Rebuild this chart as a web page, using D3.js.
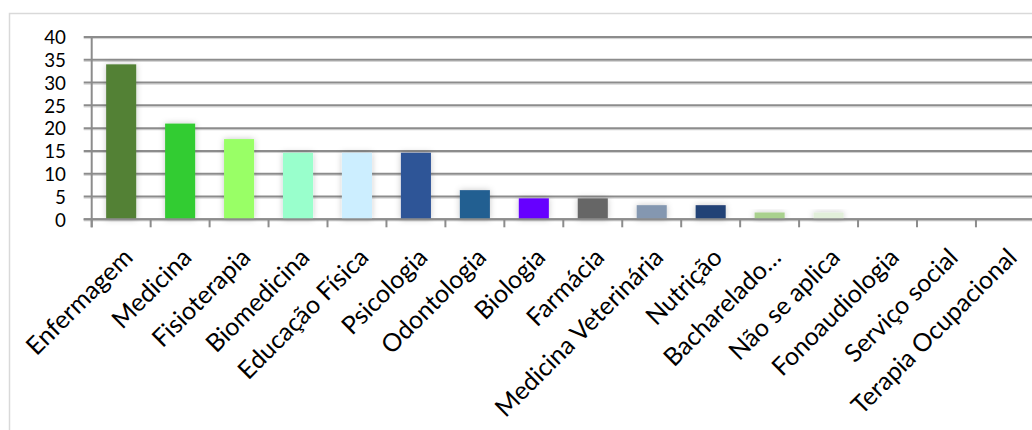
<!DOCTYPE html>
<html>
<head>
<meta charset="utf-8">
<script src="https://cdn.jsdelivr.net/npm/d3@7"></script>
<style>
  html, body { margin: 0; padding: 0; background: #ffffff; }
  svg { display: block; }
  text { font-family: Lato, "Open Sans", sans-serif; fill: #000; }
</style>
</head>
<body>
<svg id="chart" width="1032" height="430"></svg>
<script>
// Courses of the respondents (%)
const categories = [
  "Enfermagem", "Medicina", "Fisioterapia", "Biomedicina", "Educação Física",
  "Psicologia", "Odontologia", "Biologia", "Farmácia", "Medicina Veterinária",
  "Nutrição", "Bacharelado…", "Não se aplica", "Fonoaudiologia",
  "Serviço social", "Terapia Ocupacional"
];
const values = [34, 21, 17.6, 14.6, 14.6, 14.6, 6.4, 4.6, 4.6, 3.1, 3.1, 1.5, 1.5, 0, 0, 0];
const barColors = [
  "#538135", "#33cc33", "#99ff66", "#99ffcc", "#cceeff",
  "#2f5597", "#245f91", "#6600ff", "#666666", "#8497b0",
  "#244276", "#a9d18e", "#e2efda", "#dddddd", "#dddddd", "#dddddd"
];
const yTicks = [0, 5, 10, 15, 20, 25, 30, 35, 40];

const svg = d3.select("#chart");

// soft shadow under the bars
const defs = svg.append("defs");
const f = defs.append("filter").attr("id", "barShadow")
  .attr("x", "-50%").attr("y", "-50%").attr("width", "200%").attr("height", "200%");
f.append("feDropShadow").attr("dx", 0).attr("dy", 0)
  .attr("stdDeviation", 3).attr("flood-color", "#000").attr("flood-opacity", 0.22);

// chart frame
svg.append("rect")
  .attr("x", 9.5).attr("y", 13.5).attr("width", 1200).attr("height", 600)
  .attr("fill", "none").attr("stroke", "#d9d9d9").attr("stroke-width", 1.5);

const plotLeft = 91.7, plotTop = 37, plotBottom = 219.3;
const band = 58.95;

const x = d3.scaleBand()
  .domain(categories)
  .range([plotLeft, plotLeft + band * categories.length])
  .paddingInner(0.49).paddingOuter(0.245);

const y = d3.scaleLinear().domain([0, 40]).range([plotBottom, plotTop]);

// gridlines (dark line with a light edge below)
const grid = svg.append("g");
yTicks.forEach(t => {
  const yy = y(t);
  grid.append("line")
    .attr("x1", plotLeft - 8).attr("x2", 1040)
    .attr("y1", yy + 1.6).attr("y2", yy + 1.6)
    .attr("stroke", "#d0d0d0").attr("stroke-width", 1);
  grid.append("line")
    .attr("x1", plotLeft - 8).attr("x2", 1040)
    .attr("y1", yy).attr("y2", yy)
    .attr("stroke", "#8c8c8c").attr("stroke-width", 2);
});

// y axis line
svg.append("line")
  .attr("x1", plotLeft).attr("x2", plotLeft)
  .attr("y1", plotTop - 1).attr("y2", plotBottom + 8)
  .attr("stroke", "#8c8c8c").attr("stroke-width", 2);

// category boundary ticks
const bounds = d3.range(categories.length + 1).map(i => plotLeft + i * band);
svg.append("g").selectAll("line").data(bounds).join("line")
  .attr("x1", d => d).attr("x2", d => d)
  .attr("y1", plotBottom).attr("y2", plotBottom + 8)
  .attr("stroke", "#8c8c8c").attr("stroke-width", 2);

// y tick labels
const yAxis = d3.axisLeft(y).tickValues(yTicks).tickSize(0).tickPadding(0);
const gy = svg.append("g").attr("transform", `translate(66,0)`).call(yAxis);
gy.select(".domain").remove();
gy.selectAll("text")
  .attr("font-size", 18.8).attr("font-family", "Lato, 'Open Sans', sans-serif")
  .attr("fill", "#000").attr("dy", "0.36em");

// bars
svg.append("g").selectAll("rect").data(values).join("rect")
  .attr("x", (d, i) => x(categories[i]))
  .attr("width", x.bandwidth())
  .attr("y", d => y(d))
  .attr("height", d => y(0) - y(d))
  .attr("fill", (d, i) => barColors[i])
  .attr("filter", "url(#barShadow)");

// redraw the baseline over the bars
svg.append("line")
  .attr("x1", plotLeft - 8).attr("x2", 1040)
  .attr("y1", plotBottom).attr("y2", plotBottom)
  .attr("stroke", "#8c8c8c").attr("stroke-width", 2);

// rotated category labels
svg.append("g").selectAll("text").data(categories).join("text")
  .attr("transform", d => `translate(${x(d) + x.bandwidth() / 2 + 13},259) rotate(-45)`)
  .attr("text-anchor", "end")
  .attr("font-size", 25)
  .text(d => d);
</script>
</body>
</html>
